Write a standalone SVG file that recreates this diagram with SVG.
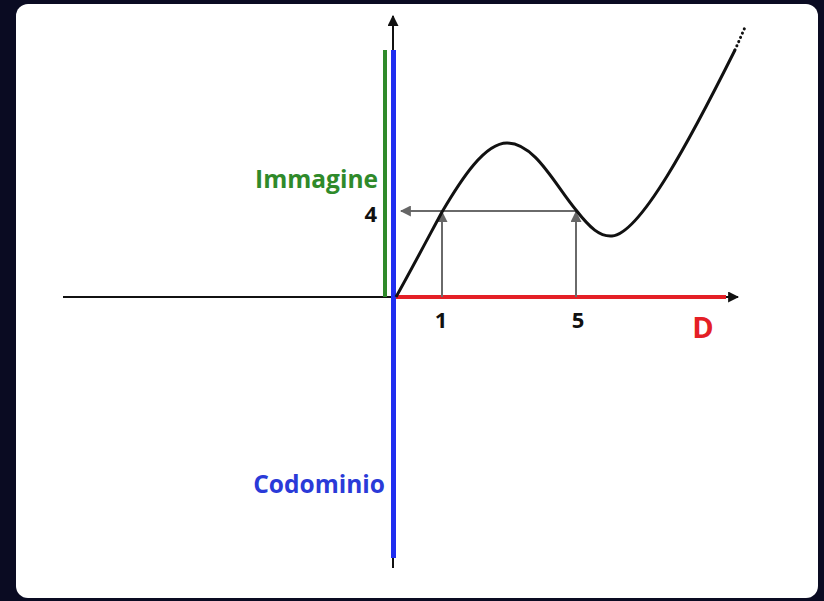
<svg xmlns="http://www.w3.org/2000/svg" width="824" height="601" viewBox="0 0 824 601">
<defs>
<marker id="ab" viewBox="0 0 10 10" refX="9" refY="5" markerWidth="5.5" markerHeight="5.5" orient="auto" markerUnits="strokeWidth"><path d="M0,0 L10,5 L0,10 z" fill="#111"/></marker>
<marker id="ag" viewBox="0 0 10 10" refX="9" refY="5" markerWidth="5.5" markerHeight="5.5" orient="auto" markerUnits="strokeWidth"><path d="M0,0 L10,5 L0,10 z" fill="#666"/></marker>
</defs>
<style>
.lbl{font-family:"Open Sans","Liberation Sans",sans-serif;font-weight:bold}
.g{stroke:#6a6a6a;stroke-width:2;fill:none}
</style>
<rect x="0" y="0" width="824" height="601" fill="#0a0b22"/>
<rect x="16" y="4" width="802" height="594" rx="12" fill="#ffffff"/>
<g id="axes">
<line x1="63" y1="297" x2="738" y2="297" stroke="#111" stroke-width="2" marker-end="url(#ab)"/>
<line x1="393" y1="568" x2="393" y2="16" stroke="#111" stroke-width="2" marker-end="url(#ab)"/>
</g>
<g id="codominio">
<line x1="393.5" y1="50" x2="393.5" y2="558" stroke="#1f2ef0" stroke-width="5"/>
<text class="lbl" x="385" y="493" font-size="24.5" fill="#2a3ad8" text-anchor="end">Codominio</text>
</g>
<g id="immagine">
<line x1="385" y1="50" x2="385" y2="297" stroke="#2f8a2a" stroke-width="4"/>
<text class="lbl" x="378" y="188" font-size="24.5" fill="#2f8a2a" text-anchor="end">Immagine</text>
</g>
<g id="dominio">
<line x1="396" y1="297" x2="726" y2="297" stroke="#e41f26" stroke-width="4"/>
<text class="lbl" x="703" y="338" font-size="29" fill="#e41f26" text-anchor="middle">D</text>
</g>
<g id="connectors">
<line class="g" x1="576" y1="211" x2="401" y2="211" marker-end="url(#ag)"/>
<line class="g" x1="442" y1="297" x2="442" y2="212" marker-end="url(#ag)"/>
<line class="g" x1="576" y1="297" x2="576" y2="212" marker-end="url(#ag)"/>
</g>
<g id="curve">
<path d="M396,297 C410,272 428,238 442,212 C462,178 485,143 507,143 C535,143 555,185 576,210 C590,228 600,237 612,236 C640,234 690,140 735,50" fill="none" stroke="#111" stroke-width="3"/>
<line x1="735" y1="50" x2="746" y2="25" stroke="#111" stroke-width="3" stroke-dasharray="0.1 4.5" stroke-linecap="round"/>
</g>
<g id="labels">
<text class="lbl" x="377" y="222" font-size="22" fill="#111" text-anchor="end">4</text>
<text class="lbl" x="441" y="328" font-size="22" fill="#111" text-anchor="middle">1</text>
<text class="lbl" x="578" y="328" font-size="22" fill="#111" text-anchor="middle">5</text>
</g>
</svg>
